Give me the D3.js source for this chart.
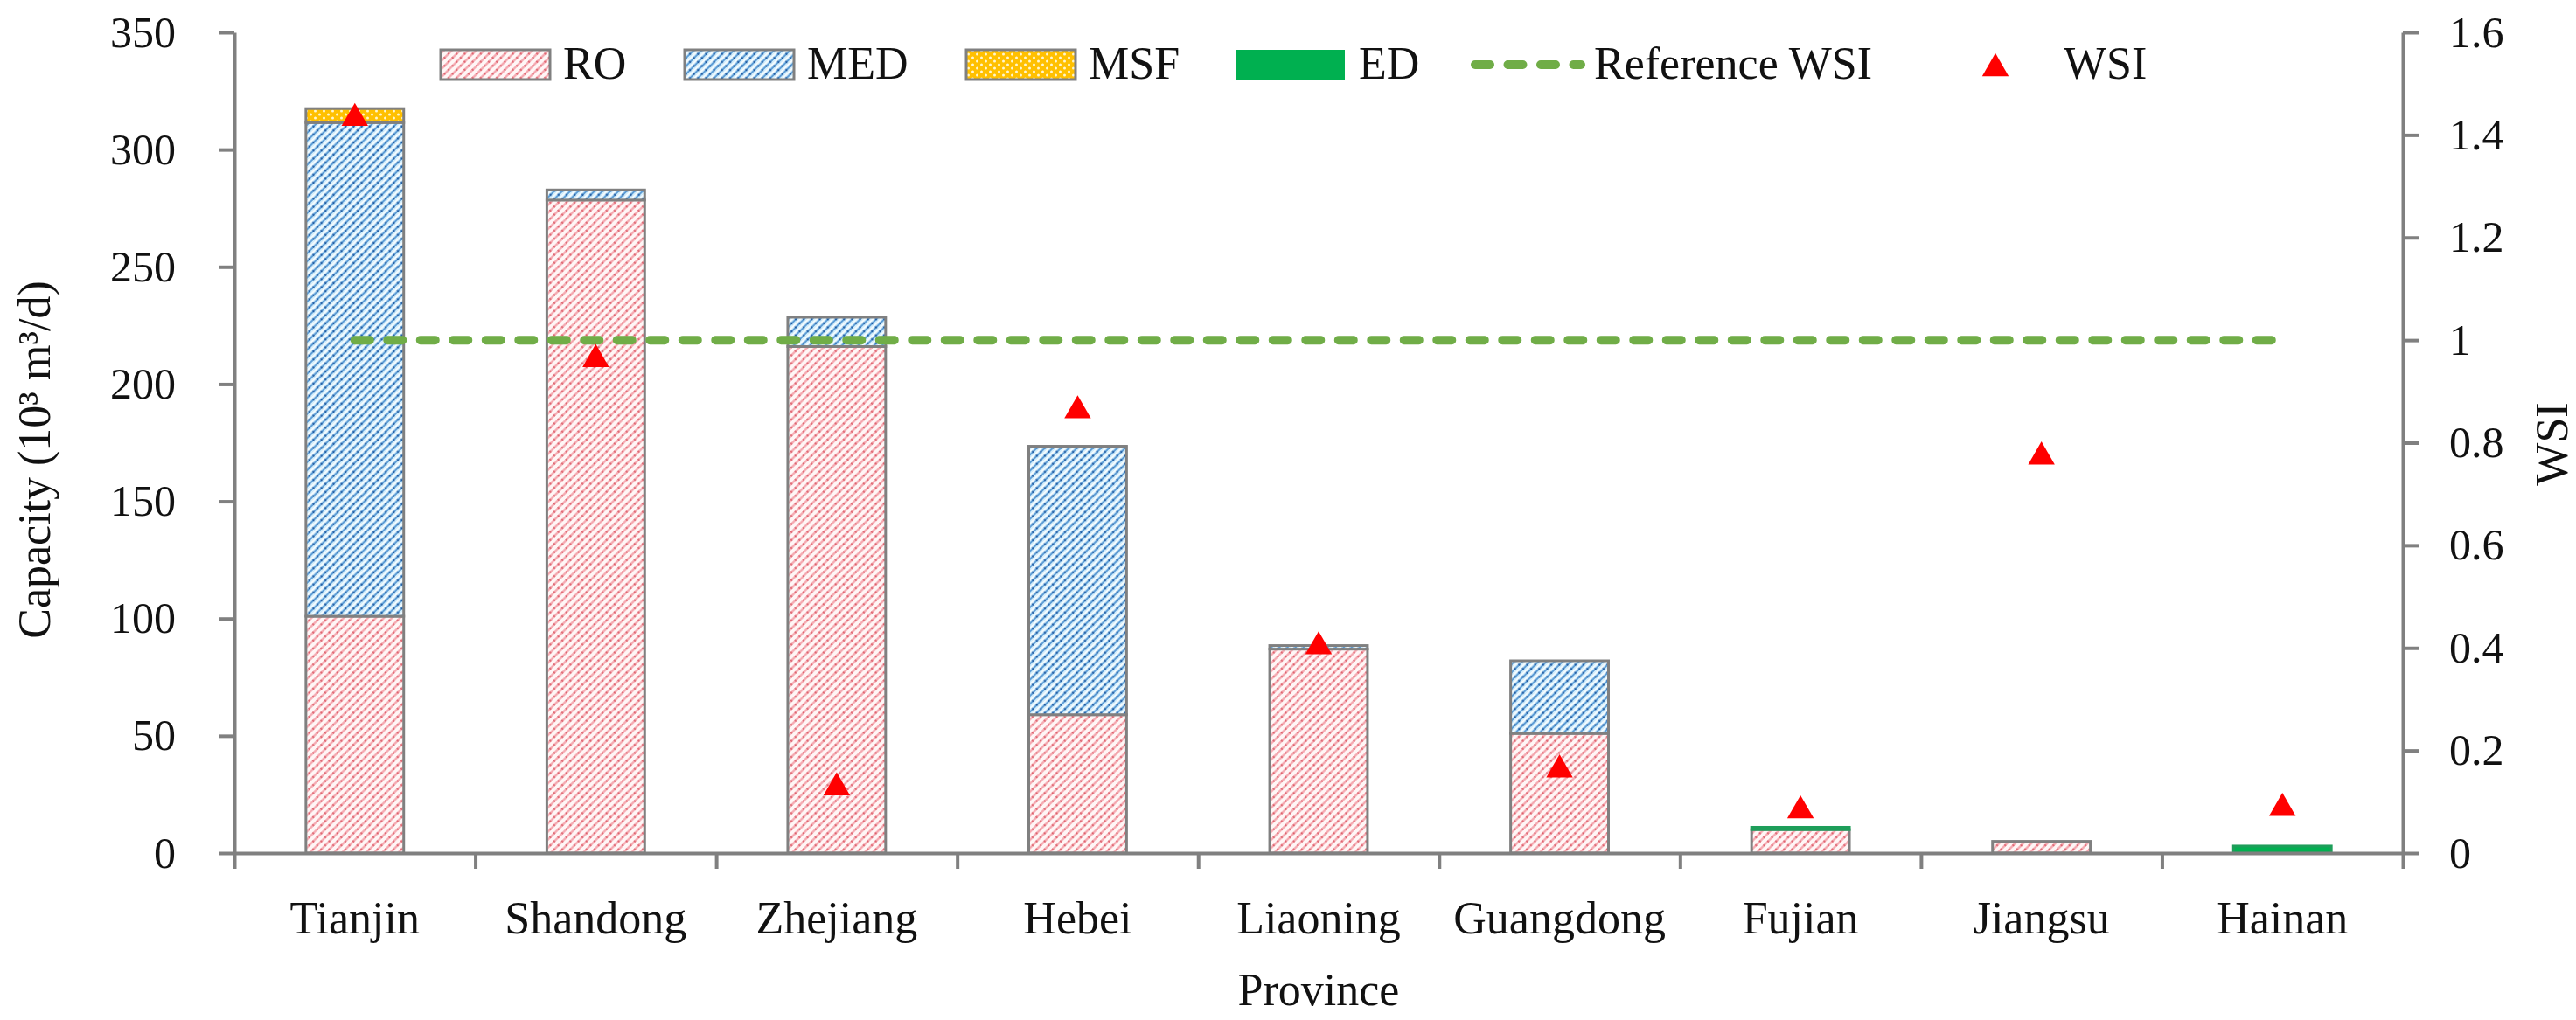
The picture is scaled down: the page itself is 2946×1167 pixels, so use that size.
<!DOCTYPE html>
<html>
<head>
<meta charset="utf-8">
<script src="https://cdn.jsdelivr.net/npm/d3@7"></script>
<style>
  body { margin: 0; background: #fff; }
  svg { display: block; }
</style>
</head>
<body>
<div id="chart"></div>
<script>
// Desalination capacity by province (10^3 m3/d) and water stress index
var categories = ["Tianjin", "Shandong", "Zhejiang", "Hebei", "Liaoning", "Guangdong", "Fujian", "Jiangsu", "Hainan"];
var ro  = [101, 278.5, 216, 59, 87, 51, 10, 5, 0];
var med = [210.5, 4.3, 12.5, 114.5, 1.5, 31, 0, 0, 0];
var msf = [6, 0, 0, 0, 0, 0, 0, 0, 0];
var ed  = [0, 0, 0, 0, 0, 0, 1, 0, 3];
var wsi = [1.44, 0.97, 0.135, 0.87, 0.41, 0.17, 0.09, 0.78, 0.095];
var refWsi = [1, 1, 1, 1, 1, 1, 1, 1, 1];
var leftTicks = [0, 50, 100, 150, 200, 250, 300, 350];
var rightTicks = [0, 0.2, 0.4, 0.6, 0.8, 1, 1.2, 1.4, 1.6];
var seriesKeys = ["RO", "MED", "MSF", "ED"];

var W = 2946, H = 1167;
var margin = {top: 37, right: 198, bottom: 191, left: 268};
var width = W - margin.left - margin.right,
    height = H - margin.top - margin.bottom;
var FONT = "'Palatino Linotype', 'Book Antiqua', Palatino, 'Liberation Serif', serif";
var GREY = "#808080";

var svg = d3.select("#chart").append("svg")
    .attr("width", W)
    .attr("height", H);

// hatch patterns like the excel fills
var defs = svg.append("defs");

var pRO = defs.append("pattern").attr("id", "pRO")
    .attr("patternUnits", "userSpaceOnUse").attr("width", 6.5).attr("height", 6.5)
    .attr("patternTransform", "rotate(-45)");
pRO.append("rect").attr("width", 6.5).attr("height", 6.5).attr("fill", "#fff6f6");
pRO.append("line").attr("x1", 0).attr("x2", 6.5).attr("y1", 3.25).attr("y2", 3.25)
    .attr("stroke", "#f4a2aa").attr("stroke-width", 2.2);
pRO.append("line").attr("x1", 0).attr("x2", 6.5).attr("y1", 3.25).attr("y2", 3.25)
    .attr("stroke", "#dc5c68").attr("stroke-width", 2.2).attr("stroke-dasharray", "1.6 4.9");

var pMED = defs.append("pattern").attr("id", "pMED")
    .attr("patternUnits", "userSpaceOnUse").attr("width", 6.5).attr("height", 6.5)
    .attr("patternTransform", "rotate(-45)");
pMED.append("rect").attr("width", 6.5).attr("height", 6.5).attr("fill", "#d3eefc");
pMED.append("line").attr("x1", 0).attr("x2", 6.5).attr("y1", 0.8).attr("y2", 0.8)
    .attr("stroke", "#ffffff").attr("stroke-width", 1.4);
pMED.append("line").attr("x1", 0).attr("x2", 6.5).attr("y1", 3.6).attr("y2", 3.6)
    .attr("stroke", "#5b9bd5").attr("stroke-width", 2);
pMED.append("line").attr("x1", 0).attr("x2", 6.5).attr("y1", 3.6).attr("y2", 3.6)
    .attr("stroke", "#1f5aa0").attr("stroke-width", 2.4).attr("stroke-dasharray", "1.6 4.9");

var pMSF = defs.append("pattern").attr("id", "pMSF")
    .attr("patternUnits", "userSpaceOnUse").attr("width", 10).attr("height", 8);
pMSF.append("rect").attr("width", 10).attr("height", 8).attr("fill", "#ffc000");
pMSF.append("circle").attr("cx", 2.5).attr("cy", 2).attr("r", 1.5).attr("fill", "#fff6d0");
pMSF.append("circle").attr("cx", 7.5).attr("cy", 6).attr("r", 1.5).attr("fill", "#fff6d0");

var fills = {RO: "url(#pRO)", MED: "url(#pMED)", MSF: "url(#pMSF)", ED: "#00b050"};
var strokes = {RO: GREY, MED: GREY, MSF: GREY, ED: "#1e9e5a"};

var g = svg.append("g")
    .attr("transform", "translate(" + margin.left + "," + margin.top + ")");

var x = d3.scaleBand()
    .domain(categories)
    .range([0, width])
    .paddingInner(0.594)
    .paddingOuter(0.297);

var xEdge = d3.scaleLinear().domain([0, categories.length]).range([0, width]);

var y = d3.scaleLinear().domain([0, 350]).range([height, 0]);
var y2 = d3.scaleLinear().domain([0, 1.6]).range([height, 0]);

// stacked bars
var table = categories.map(function (c, i) {
    return {province: c, RO: ro[i], MED: med[i], MSF: msf[i], ED: ed[i]};
});
var stacked = d3.stack().keys(seriesKeys)(table);

g.append("g").selectAll("g")
    .data(stacked)
    .enter().append("g")
    .attr("fill", function (s) { return fills[s.key]; })
    .attr("stroke", function (s) { return strokes[s.key]; })
    .selectAll("rect")
    .data(function (s) { return s.filter(function (d) { return d[1] - d[0] > 0; }); })
    .enter().append("rect")
    .attr("x", function (d) { return x(d.data.province); })
    .attr("width", x.bandwidth())
    .attr("y", function (d) { return y(d[1]); })
    .attr("height", function (d) { return y(d[0]) - y(d[1]); })
    .attr("stroke-width", 3);

// axes
function styleAxis(sel, size) {
    sel.attr("font-family", FONT).attr("font-size", size);
    sel.selectAll("path, line").attr("stroke", GREY).attr("stroke-width", 4);
    sel.selectAll("text").attr("fill", "#111");
}

g.append("g")
    .attr("transform", "translate(0," + height + ")")
    .call(d3.axisBottom(xEdge).tickValues(d3.range(categories.length + 1))
        .tickFormat("").tickSize(18).tickSizeOuter(0))
    .call(styleAxis, 52);

g.append("g")
    .attr("transform", "translate(0," + height + ")")
    .call(d3.axisBottom(x).tickSize(0).tickPadding(55))
    .call(styleAxis, 52)
    .call(function (a) { a.select(".domain").remove(); });

g.append("g")
    .call(d3.axisLeft(y).tickValues(leftTicks).tickSize(17).tickPadding(50).tickSizeOuter(0))
    .call(styleAxis, 50);

g.append("g")
    .attr("transform", "translate(" + width + ",0)")
    .call(d3.axisRight(y2).tickValues(rightTicks).tickSize(18).tickPadding(35)
        .tickSizeOuter(0).tickFormat(d3.format("~g")))
    .call(styleAxis, 50);

// reference WSI line
var line = d3.line()
    .x(function (d, i) { return x(categories[i]) + x.bandwidth() / 2; })
    .y(function (d) { return y2(d); });

g.append("path")
    .datum(refWsi)
    .attr("d", line)
    .attr("fill", "none")
    .attr("stroke", "#70ad47")
    .attr("stroke-width", 10)
    .attr("stroke-linecap", "round")
    .attr("stroke-dasharray", "17 20.5");

// WSI markers
var triSize = 400;
var triShift = Math.sqrt(triSize / (Math.sqrt(3) * 3)) / 2;
var tri = d3.symbol().type(d3.symbolTriangle).size(triSize);

g.append("g").selectAll("path")
    .data(wsi)
    .enter().append("path")
    .attr("d", tri)
    .attr("transform", function (d, i) {
        return "translate(" + (x(categories[i]) + x.bandwidth() / 2) + "," + (y2(d) + triShift) + ")";
    })
    .attr("fill", "#ff0000");

// axis titles
svg.append("text")
    .attr("transform", "translate(57,526) rotate(-90)")
    .attr("text-anchor", "middle")
    .attr("font-family", FONT).attr("font-size", 52).attr("fill", "#111")
    .text("Capacity (10\u00b3 m\u00b3/d)");

svg.append("text")
    .attr("transform", "translate(2936,508) rotate(-90)")
    .attr("text-anchor", "middle")
    .attr("font-family", FONT).attr("font-size", 52).attr("fill", "#111")
    .text("WSI");

svg.append("text")
    .attr("x", margin.left + width / 2)
    .attr("y", 1150)
    .attr("text-anchor", "middle")
    .attr("font-family", FONT).attr("font-size", 52).attr("fill", "#111")
    .text("Province");

// legend
var legend = svg.append("g").attr("font-family", FONT).attr("font-size", 52).attr("fill", "#111");
var boxX = [504, 783, 1105, 1413];
var textX = [644, 923, 1245, 1554];
seriesKeys.forEach(function (k, i) {
    legend.append("rect")
        .attr("x", boxX[i]).attr("y", 57).attr("width", 125).attr("height", 34)
        .attr("fill", fills[k])
        .attr("stroke", k === "ED" ? "none" : GREY).attr("stroke-width", 3);
    legend.append("text").attr("x", textX[i]).attr("y", 90).text(k);
});
legend.append("line")
    .attr("x1", 1687).attr("x2", 1808).attr("y1", 74).attr("y2", 74)
    .attr("stroke", "#70ad47").attr("stroke-width", 10)
    .attr("stroke-linecap", "round").attr("stroke-dasharray", "17 20.5");
legend.append("text").attr("x", 1823).attr("y", 90).text("Reference WSI");
legend.append("path")
    .attr("d", tri)
    .attr("transform", "translate(2282," + (74 + triShift) + ")")
    .attr("fill", "#ff0000");
legend.append("text").attr("x", 2360).attr("y", 90).text("WSI");
</script>
</body>
</html>
